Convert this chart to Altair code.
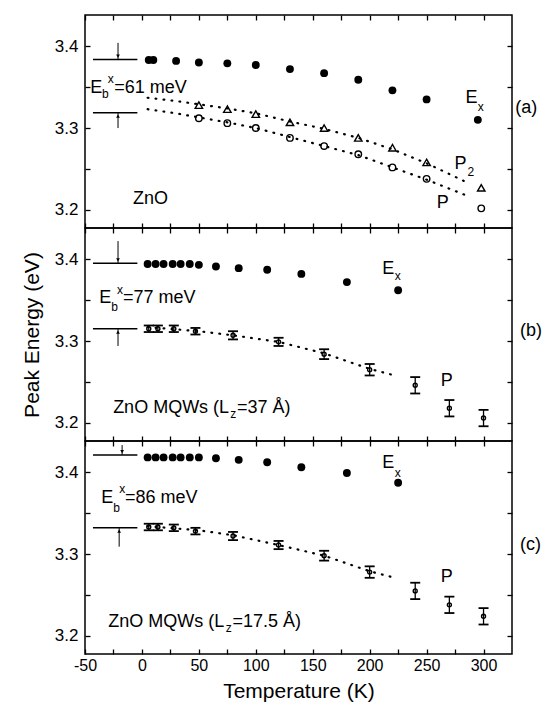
import altair as alt
import pandas as pd

FONT = "Liberation Sans"
T_DOMAIN = [-50, 325]
E_DOMAIN = [3.178, 3.438]
X_TICKS = [-50, -25, 0, 25, 50, 75, 100, 125, 150, 175, 200, 225, 250, 275, 300]
Y_TICKS = [3.2, 3.25, 3.3, 3.35, 3.4]

# ---------------- Panel (a): ZnO ----------------
a_ex_T = [6, 10, 30, 50, 75, 100, 130, 160, 190, 220, 250, 295]
a_ex_E = [3.383, 3.383, 3.382, 3.380, 3.379, 3.377, 3.372, 3.367, 3.359, 3.346, 3.335, 3.310]
a_p2_T = [50, 75, 100, 130, 160, 190, 220, 250, 298]
a_p2_E = [3.328, 3.323, 3.317, 3.307, 3.300, 3.288, 3.276, 3.258, 3.227]
a_p_T = [50, 75, 100, 130, 160, 190, 220, 250, 298]
a_p_E = [3.312, 3.306, 3.300, 3.288, 3.278, 3.268, 3.252, 3.238, 3.202]
a_fit2_T = [5, 30, 50, 75, 100, 130, 160, 190, 220, 250, 288]
a_fit2_E = [3.337, 3.333, 3.329, 3.324, 3.318, 3.308, 3.299, 3.288, 3.274, 3.257, 3.232]
a_fit_T = [5, 30, 50, 75, 100, 130, 160, 190, 220, 250, 288]
a_fit_E = [3.323, 3.318, 3.313, 3.307, 3.300, 3.289, 3.278, 3.267, 3.252, 3.237, 3.216]

# ---------------- Panel (b): ZnO MQWs 37 A ----------------
b_ex_T = [5, 12, 19, 27, 34, 42, 50, 65, 85, 110, 140, 180, 225]
b_ex_E = [3.394, 3.394, 3.394, 3.394, 3.394, 3.394, 3.393, 3.391, 3.389, 3.387, 3.382, 3.372, 3.362]
b_p_T = [6, 14, 28, 47, 80, 120, 160, 200, 240, 270, 300]
b_p_E = [3.315, 3.315, 3.315, 3.312, 3.307, 3.299, 3.284, 3.265, 3.246, 3.218, 3.206]
b_p_err = [0.004, 0.004, 0.004, 0.004, 0.005, 0.005, 0.006, 0.007, 0.010, 0.010, 0.010]
b_fit_T = [5, 50, 80, 120, 160, 200, 222]
b_fit_E = [3.317, 3.312, 3.307, 3.299, 3.285, 3.266, 3.258]

# ---------------- Panel (c): ZnO MQWs 17.5 A ----------------
c_ex_T = [5, 12, 19, 27, 34, 42, 50, 65, 85, 110, 140, 180, 225]
c_ex_E = [3.418, 3.418, 3.418, 3.418, 3.418, 3.418, 3.418, 3.417, 3.415, 3.412, 3.406, 3.399, 3.387]
c_p_T = [6, 14, 28, 47, 80, 120, 160, 200, 240, 270, 300]
c_p_E = [3.333, 3.333, 3.332, 3.328, 3.322, 3.311, 3.298, 3.278, 3.255, 3.238, 3.224]
c_p_err = [0.004, 0.004, 0.004, 0.004, 0.005, 0.005, 0.006, 0.007, 0.010, 0.010, 0.010]
c_fit_T = [5, 50, 80, 120, 160, 200, 222]
c_fit_E = [3.334, 3.329, 3.323, 3.311, 3.298, 3.279, 3.271]

# ---------------- Binding-energy annotations ----------------
ann_line_T1 = -43
ann_line_T2 = -4
a_levels = [3.3837, 3.3187]
b_levels = [3.395, 3.315]
c_levels = [3.421, 3.332]
a_arrow_T = [-21, -21]
b_arrow_T = [-21, -21]
c_arrow_T = [-17.4, -20]
a_arrow_from = [3.404, 3.300]
b_arrow_from = [3.422, 3.294]
c_arrow_from = [3.433, 3.309]

# ---------------- Text labels (text, T, E, size) ----------------
a_texts = [("E", -45.3, 3.3427, 18), ("b", -35.0, 3.3366, 12), ("x", -30.0, 3.3549, 12),
           ("=61 meV", -24.4, 3.3427, 18), ("ZnO", -7.8, 3.2073, 18),
           ("E", 284.2, 3.3305, 18), ("x", 295.0, 3.3207, 12),
           ("P", 274.6, 3.250, 18), ("2", 286.0, 3.2415, 12),
           ("P", 259.0, 3.2024, 18), ("(a)", 327.8, 3.318, 18)]
b_texts = [("E", -37.5, 3.3463, 18), ("b", -27.0, 3.3366, 12), ("x", -21.8, 3.3573, 12),
           ("=77 meV", -16.6, 3.3463, 18),
           ("ZnO MQWs (L", -25.3, 3.2122, 18), ("z", 77.5, 3.2061, 12), ("=37 Å)", 83.5, 3.2122, 18),
           ("E", 211.0, 3.3817, 18), ("x", 222.0, 3.3744, 12),
           ("P", 262.4, 3.2451, 18), ("(b)", 332.0, 3.3061, 18)]
c_texts = [("E", -35.7, 3.3622, 18), ("b", -25.3, 3.3512, 12), ("x", -20.0, 3.3744, 12),
           ("=86 meV", -14.8, 3.3622, 18),
           ("ZnO MQWs (L", -29.6, 3.2110, 18), ("z", 73.5, 3.2049, 12), ("=17.5 Å)", 79.5, 3.2110, 18),
           ("E", 211.0, 3.4049, 18), ("x", 222.0, 3.3939, 12),
           ("P", 262.4, 3.2659, 18), ("(c)", 332.0, 3.3049, 18)]

XS = alt.Scale(domain=T_DOMAIN, nice=False, zero=False)
YS = alt.Scale(domain=E_DOMAIN, nice=False, zero=False)
TICK_IN = {"expr": "-5"}
Y_LABEL_EXPR = "abs(datum.value*10 - round(datum.value*10)) < 0.01 ? format(datum.value, '.1f') : ''"
X_LABEL_EXPR = "datum.value % 50 == 0 ? '' + datum.value : ''"


def panel(ex_T, ex_E, p_T, p_E, fits, texts, levels, arrow_T, arrow_from,
          p_err=None, p2=None, last=False, ytitle=" ", p_size=42):
    x_bottom = alt.Axis(orient="bottom", values=X_TICKS, tickSize=TICK_IN, labels=last,
                        labelExpr=X_LABEL_EXPR, labelFontSize=16, labelPadding=8,
                        labelFlush=False, minExtent=0,
                        title="Temperature (K)" if last else None, titleFontSize=21,
                        titlePadding=7)
    y_left = alt.Axis(orient="left", values=Y_TICKS, tickSize=TICK_IN,
                      labelExpr=Y_LABEL_EXPR, labelFontSize=17, labelPadding=12,
                      title=ytitle, titleFontSize=21, titlePadding=12)
    x_top = alt.Axis(orient="top", values=X_TICKS, tickSize=TICK_IN, labels=False, title=None,
                     minExtent=0, maxExtent=0)
    y_right = alt.Axis(orient="right", values=Y_TICKS, tickSize=TICK_IN, labels=False, title=None,
                       minExtent=0, maxExtent=0)

    ex_df = pd.DataFrame({"T": ex_T, "E": ex_E})
    p_df = pd.DataFrame({"T": p_T, "E": p_E})

    ex = alt.Chart(ex_df).mark_circle(color="black", size=62, opacity=1).encode(
        x=alt.X("T:Q", scale=XS, axis=x_bottom),
        y=alt.Y("E:Q", scale=YS, axis=y_left),
    )
    p = alt.Chart(p_df).mark_point(shape="circle", filled=False, color="black",
                                   size=p_size, strokeWidth=1.4, opacity=1).encode(
        x=alt.X("T:Q", scale=XS, axis=x_top),
        y=alt.Y("E:Q", scale=YS, axis=y_right),
    )
    layers = [ex, p]

    fit_rows = []
    for gi, (ft, fe) in enumerate(fits):
        for t, e in zip(ft, fe):
            fit_rows.append({"T": t, "E": e, "g": gi})
    fit = alt.Chart(pd.DataFrame(fit_rows)).mark_line(
        color="black", strokeWidth=2.2, strokeDash=[0.8, 7.2], strokeCap="round").encode(
        x=alt.X("T:Q", scale=XS, axis=None),
        y=alt.Y("E:Q", scale=YS, axis=None),
        detail="g:N",
    )
    layers.append(fit)

    if p2 is not None:
        p2_df = pd.DataFrame({"T": p2[0], "E": p2[1]})
        layers.append(alt.Chart(p2_df).mark_point(shape="triangle-up", filled=False,
                                                  color="black", size=55, strokeWidth=1.4,
                                                  opacity=1).encode(
            x=alt.X("T:Q", scale=XS, axis=None),
            y=alt.Y("E:Q", scale=YS, axis=None),
        ))

    if p_err is not None:
        err_df = pd.DataFrame({"T": p_T, "lo": [e - d for e, d in zip(p_E, p_err)],
                               "hi": [e + d for e, d in zip(p_E, p_err)]})
        layers.append(alt.Chart(err_df).mark_rule(color="black", strokeWidth=1.3).encode(
            x=alt.X("T:Q", scale=XS, axis=None),
            y=alt.Y("lo:Q", scale=YS, axis=None),
            y2="hi:Q",
        ))
        for col in ["lo", "hi"]:
            layers.append(alt.Chart(err_df).mark_tick(orient="horizontal", color="black",
                                                      size=10, thickness=1.8, opacity=1).encode(
                x=alt.X("T:Q", scale=XS, axis=None),
                y=alt.Y(f"{col}:Q", scale=YS, axis=None),
            ))

    # binding energy markers
    lvl_df = pd.DataFrame({"T1": [ann_line_T1] * 2, "T2": [ann_line_T2] * 2, "E": levels})
    layers.append(alt.Chart(lvl_df).mark_rule(color="black", strokeWidth=1.5).encode(
        x=alt.X("T1:Q", scale=XS, axis=None), x2="T2:Q",
        y=alt.Y("E:Q", scale=YS, axis=None),
    ))
    arr_df = pd.DataFrame({"T": arrow_T, "E1": arrow_from, "E2": levels,
                           "head": [levels[0] + 0.004, levels[1] - 0.004],
                           "shape": ["triangle-down", "triangle-up"]})
    layers.append(alt.Chart(arr_df).mark_rule(color="black", strokeWidth=1).encode(
        x=alt.X("T:Q", scale=XS, axis=None),
        y=alt.Y("E1:Q", scale=YS, axis=None), y2="E2:Q",
    ))
    layers.append(alt.Chart(arr_df).mark_point(filled=True, color="black", size=14,
                                               opacity=1).encode(
        x=alt.X("T:Q", scale=XS, axis=None),
        y=alt.Y("head:Q", scale=YS, axis=None),
        shape=alt.Shape("shape:N", scale=None),
    ))

    txt_df = pd.DataFrame(texts, columns=["text", "T", "E", "size"])
    layers.append(alt.Chart(txt_df).mark_text(align="left", baseline="alphabetic",
                                              font=FONT, color="black").encode(
        x=alt.X("T:Q", scale=XS, axis=None),
        y=alt.Y("E:Q", scale=YS, axis=None),
        text="text:N",
        size=alt.Size("size:Q", scale=None),
    ))

    return alt.layer(*layers).resolve_axis(x="independent", y="independent").properties(
        width=427, height=213)


pa = panel(a_ex_T, a_ex_E, a_p_T, a_p_E, [(a_fit2_T, a_fit2_E), (a_fit_T, a_fit_E)],
           a_texts, a_levels, a_arrow_T, a_arrow_from, p2=(a_p2_T, a_p2_E))
pb = panel(b_ex_T, b_ex_E, b_p_T, b_p_E, [(b_fit_T, b_fit_E)], b_texts, b_levels,
           b_arrow_T, b_arrow_from, p_err=b_p_err, ytitle="Peak Energy (eV)", p_size=16)
pc = panel(c_ex_T, c_ex_E, c_p_T, c_p_E, [(c_fit_T, c_fit_E)], c_texts, c_levels,
           c_arrow_T, c_arrow_from, p_err=c_p_err, last=True, p_size=16)

chart = alt.vconcat(pa, pb, pc, spacing=0, bounds="flush").properties(
    padding={"left": 12, "top": 5, "right": 0, "bottom": 0}
).configure_view(stroke="black", strokeWidth=1.5).configure_axis(
    labelFont=FONT, titleFont=FONT, labelColor="black", titleColor="black",
    tickColor="black", tickWidth=1.3, domain=False, grid=False,
    titleFontWeight="normal",
).configure_concat(spacing=0)

chart.save("out.html", embed_options={"renderer": "svg", "actions": False})
